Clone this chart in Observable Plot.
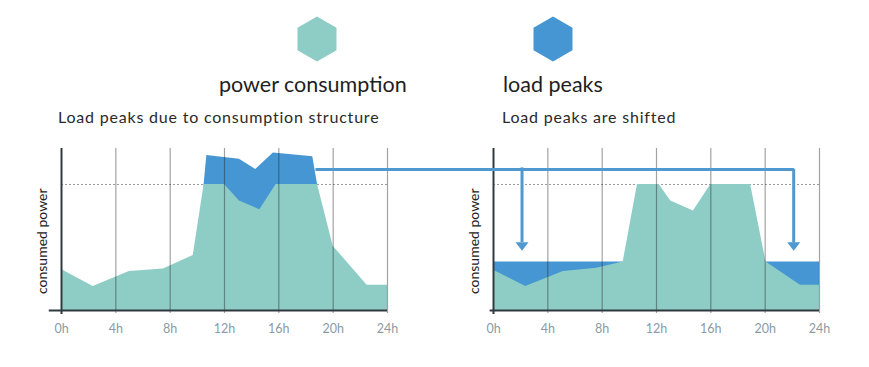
<!DOCTYPE html>
<html><head><meta charset="utf-8">
<script src="https://cdn.jsdelivr.net/npm/d3@7"></script>
<script src="https://cdn.jsdelivr.net/npm/@observablehq/plot@0.6"></script>
<style>
body{margin:0;background:#fff;}
#wrap{position:relative;width:869px;height:367px;overflow:hidden;}
#head{display:block;}
#chart svg{display:block;}
</style></head><body>
<div id="wrap">
<svg id="head" width="869" height="140" font-family="Lato, sans-serif"></svg>
<div id="chart"></div>
</div>
<script>
// ---- data ----
const hourTicks = [0, 4, 8, 12, 16, 20, 24];
const panels = ["before", "after"];
const panelTitles = ["Load peaks due to consumption structure", "Load peaks are shifted"];
const legendLabels = ["power consumption", "load peaks"];
const yLabel = "consumed power";

const beforeHours = [0, 2.33, 5.0, 7.5, 9.7, 10.5, 12.0, 13.1, 14.6, 15.8, 18.85, 20.0, 22.5, 24];
const beforePower = [32.5, 19, 31, 33, 43.7, 100, 100, 87, 80, 100, 100, 51, 20, 20];
const beforePeakHours = [10.5, 10.7, 13.1, 14.3, 15.6, 18.5, 18.85];
const beforePeak = [100, 123, 120, 112, 125, 122, 100];

const afterHours = [0, 2.37, 5.14, 7.6, 9.55, 10.6, 12.2, 13.05, 14.72, 16.0, 18.93, 20.06, 22.6, 24];
const afterPower = [32, 19, 31, 33.5, 38.6, 100, 100, 87, 79, 100, 100, 38.6, 20, 20];
const shiftedLevel = 38.6;
const shiftedStarts = [0, 20.06];
const shiftedEnds = [9.55, 24];

const threshold = 100;
const yMax = 128.6;
const arrowLevel = 112;
const arrowStartHour = 18.68;   // right edge of the left peak block
const arrowTargets = [2.1, 22.1]; // hours in the right panel
const arrowHeadLevel = 50.9;

// ---- style ----
const light = "#8ecdc5", dark = "#4596d2", arrowColor = "#4f98d0";
const W = 869, mL = 61, mR = 49, pad = 0.245;
const panelOffset = 24 / (1 - pad); // hours between the two panel origins

// ---- tables ----
const power = [
  ...beforeHours.map((h, i) => ({panel: "before", hour: h, value: beforePower[i]})),
  ...afterHours.map((h, i) => ({panel: "after", hour: h, value: afterPower[i]}))
];
const peaks = beforePeakHours.map((h, i) => ({panel: "before", hour: h, value: beforePeak[i], seg: 0}));
const shifted = shiftedStarts.flatMap((s, i) => [
  {panel: "after", hour: s, value: shiftedLevel, seg: i},
  {panel: "after", hour: shiftedEnds[i], value: shiftedLevel, seg: i}
]);
const arrowPath = [
  {panel: "after", hour: arrowStartHour - panelOffset, value: arrowLevel},
  {panel: "after", hour: arrowTargets[1], value: arrowLevel},
  {panel: "after", hour: arrowTargets[1], value: arrowHeadLevel + 3}
];
const arrowHeads = arrowTargets.map(h => ({panel: "after", hour: h, value: arrowHeadLevel}));
const baseLines = [{panel: "before", from: -0.9}, {panel: "after", from: -0.25}];

const headSymbol = {
  draw(ctx, size) {
    const s = Math.sqrt(size / Math.PI);
    ctx.moveTo(-s * 1.3, -s * 0.85);
    ctx.lineTo(s * 1.3, -s * 0.85);
    ctx.lineTo(0, s * 0.85);
    ctx.closePath();
  }
};

const chart = Plot.plot({
  width: W, height: 227,
  marginLeft: mL, marginRight: mR, marginTop: 8, marginBottom: 57,
  style: {fontFamily: "Lato, sans-serif", background: "transparent", overflow: "visible"},
  fx: {domain: panels, paddingInner: pad, paddingOuter: 0, axis: null},
  x: {domain: [0, 24], axis: null},
  y: {domain: [0, yMax], axis: null},
  marks: [
    Plot.ruleY([threshold], {stroke: "#9a9a9a", strokeDasharray: "2,2", strokeWidth: 1}),
    Plot.area(peaks, {x1: "hour", y1: 0, y2: "value", fx: "panel", z: "seg", fill: dark, curve: "linear"}),
    Plot.area(shifted, {x1: "hour", y1: 0, y2: "value", fx: "panel", z: "seg", fill: dark, curve: "linear"}),
    Plot.area(power, {x1: "hour", y1: 0, y2: "value", fx: "panel", fill: light, curve: "linear"}),
    Plot.ruleX(hourTicks.slice(1), {stroke: "#222", strokeOpacity: 0.42, strokeWidth: 1.2, insetBottom: -3}),
    Plot.ruleX([0], {stroke: "#2e3a40", strokeWidth: 2, insetBottom: -4}),
    Plot.ruleY(baseLines, {y: 0, fx: "panel", x1: "from", x2: 24, stroke: "#2e3a40", strokeWidth: 2}),
    Plot.axisX({ticks: hourTicks, tickFormat: d => d + "h", tickSize: 0, tickPadding: 14, fill: "#8b9ba6", fontSize: 12.5, label: null}),
    Plot.text([yLabel], {frameAnchor: "left", textAnchor: "middle", y: 55, dx: -19, rotate: -90, fontSize: 14, fill: "#222"}),
    Plot.line(arrowPath, {x: "hour", y: "value", fx: "panel", stroke: arrowColor, strokeWidth: 3, strokeLinejoin: "miter", strokeLinecap: "butt"}),
    Plot.ruleX(arrowHeads.slice(0, 1), {x: "hour", y1: arrowLevel + 1.2, y2: arrowHeadLevel + 3, fx: "panel", stroke: arrowColor, strokeWidth: 3}),
    Plot.dot(arrowHeads, {x: "hour", y: "value", fx: "panel", r: 5, symbol: headSymbol, fill: arrowColor, stroke: "none"})
  ]
});
document.getElementById("chart").appendChild(chart);

// ---- header (legend + panel titles) ----
const head = d3.select("#head");
const hexCenters = [317, 553];
const hexColors = [light, dark];
const hexR = 22.5;
hexCenters.forEach((cx, i) => {
  const pts = d3.range(6).map(k => {
    const a = Math.PI / 3 * k - Math.PI / 2;
    return [cx + hexR * Math.cos(a), 39 + hexR * Math.sin(a)];
  });
  head.append("polygon").attr("points", pts.map(p => p.join(",")).join(" ")).attr("fill", hexColors[i]);
});
const legendX = [219, 503];
legendLabels.forEach((t, i) => head.append("text").attr("x", legendX[i]).attr("y", 92).attr("font-size", 21.5).attr("fill", "#1e1e1e").text(t));
const titleX = [58, 502];
panelTitles.forEach((t, i) => head.append("text").attr("x", titleX[i]).attr("y", 123).attr("font-size", 16).attr("letter-spacing", 0.8).attr("fill", "#2a2a2a").text(t));
</script>
</body></html>
